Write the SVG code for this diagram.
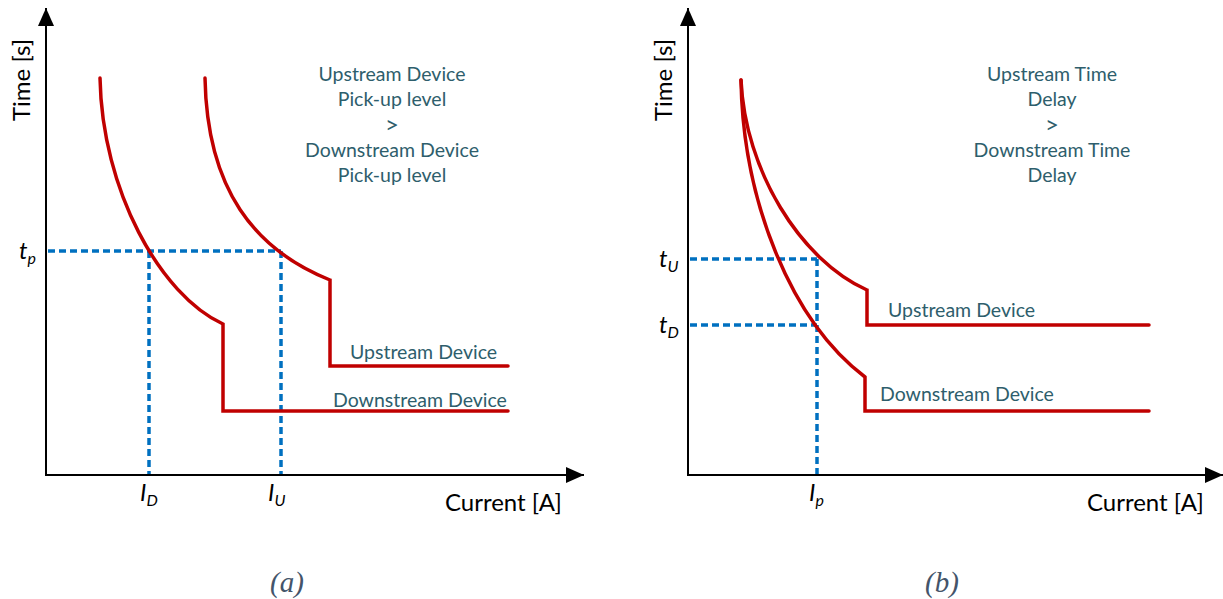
<svg xmlns="http://www.w3.org/2000/svg" width="1223" height="599" viewBox="0 0 1223 599">
<style>
.ax{stroke:#000;stroke-width:2;fill:none}
.cur{stroke:#c00000;stroke-width:3.5;fill:none;stroke-linecap:round;stroke-linejoin:miter}
.dash{stroke:#0070c0;stroke-width:3.5;fill:none;stroke-dasharray:7 4}
.lbl{font-family:Lato,"Noto Sans",sans-serif;font-size:19.5px;fill:#2e5e6c}
.note{font-family:Lato,"Noto Sans",sans-serif;font-size:19.5px;fill:#2e5e6c;text-anchor:middle}
.gt{font-size:24px}
.axt{font-family:Lato,"Noto Sans",sans-serif;font-size:24px;fill:#000}
.sym{font-family:Lato,"Noto Sans",sans-serif;font-size:24px;font-style:italic;fill:#000}
.cap{font-family:"Liberation Serif",serif;font-size:29px;font-style:italic;fill:#44546a;text-anchor:middle}
</style>
<defs>
<marker id="arrow" viewBox="0 0 16 16" refX="16" refY="8" markerWidth="18" markerHeight="16" markerUnits="userSpaceOnUse" orient="auto" preserveAspectRatio="none">
<path d="M0,0 L16,8 L0,16 z" fill="#000"/>
</marker>
</defs>

<g id="plot-a">
<g id="axes-a">
<line class="ax" x1="46" y1="475" x2="46" y2="8" marker-end="url(#arrow)"/>
<line class="ax" x1="45" y1="475" x2="584" y2="475" marker-end="url(#arrow)"/>
<text class="axt" transform="translate(30,121) rotate(-90)" font-size="25">Time [s]</text>
<text class="axt" x="445" y="511">Current [A]</text>
</g>
<g id="guides-a">
<path class="dash" d="M48,251 H281 M149,251 V474 M281,251 V474"/>
<text class="sym" x="19" y="259">t<tspan font-size="16" dy="5">p</tspan></text>
<text class="sym" x="140" y="501">I<tspan font-size="16" dy="5">D</tspan></text>
<text class="sym" x="268" y="501">I<tspan font-size="16" dy="5">U</tspan></text>
</g>
<g id="downstream-a">
<path class="cur" d="M100,78 C102,190 160,295 223,324 V411 H508"/>
<text class="lbl" x="333" y="407">Downstream Device</text>
</g>
<g id="upstream-a">
<path class="cur" d="M205,78 C207,190 255,250 330,280 V366 H508"/>
<text class="lbl" x="350" y="359">Upstream Device</text>
</g>
<g id="note-a">
<text class="note" x="392" y="81">Upstream Device</text>
<text class="note" x="392" y="106">Pick-up level</text>
<text class="note gt" x="392" y="133">&gt;</text>
<text class="note" x="392" y="157">Downstream Device</text>
<text class="note" x="392" y="182">Pick-up level</text>
</g>
<text class="cap" x="287" y="592">(a)</text>
</g>

<g id="plot-b">
<g id="axes-b">
<line class="ax" x1="688" y1="475" x2="688" y2="8" marker-end="url(#arrow)"/>
<line class="ax" x1="687" y1="475" x2="1223" y2="475" marker-end="url(#arrow)"/>
<text class="axt" transform="translate(672,121) rotate(-90)" font-size="25">Time [s]</text>
<text class="axt" x="1087" y="511">Current [A]</text>
</g>
<g id="guides-b">
<path class="dash" d="M690,259 H817 M690,325 H817 M817,259 V474"/>
<text class="sym" x="659" y="267">t<tspan font-size="16" dy="5">U</tspan></text>
<text class="sym" x="659" y="333">t<tspan font-size="16" dy="5">D</tspan></text>
<text class="sym" x="809" y="501">I<tspan font-size="16" dy="5">p</tspan></text>
</g>
<g id="upstream-b">
<path class="cur" d="M741,80 C745,170 800,260 867,290 V325 H1149"/>
<text class="lbl" x="888" y="317">Upstream Device</text>
</g>
<g id="downstream-b">
<path class="cur" d="M741,80 C743,200 790,320 865,377 V411 H1149"/>
<text class="lbl" x="880" y="401">Downstream Device</text>
</g>
<g id="note-b">
<text class="note" x="1052" y="81">Upstream Time</text>
<text class="note" x="1052" y="106">Delay</text>
<text class="note gt" x="1052" y="133">&gt;</text>
<text class="note" x="1052" y="157">Downstream Time</text>
<text class="note" x="1052" y="182">Delay</text>
</g>
<text class="cap" x="942" y="592">(b)</text>
</g>
</svg>
